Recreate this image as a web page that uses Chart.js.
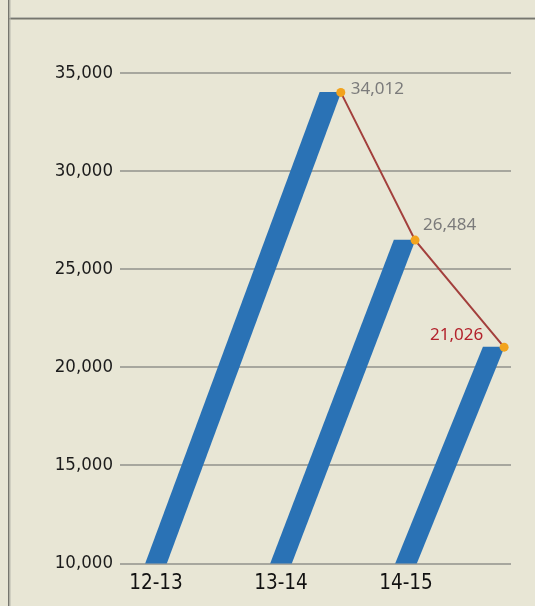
<!DOCTYPE html>
<html lang="en">
<head>
<meta charset="UTF-8" />
<title>Totals by year</title>
<script src="https://cdn.jsdelivr.net/npm/chart.js@4.4.0/dist/chart.umd.min.js"></script>
<style>
  html, body { margin: 0; padding: 0; background: #e8e6d5; }
  canvas { display: block; }
</style>
</head>
<body>
<canvas id="chart" width="535" height="606"></canvas>
<script>
const categories = ["12-13", "13-14", "14-15"];
const totals = [34012, 26484, 21026];
const yMin = 10000;
const yMax = 35000;
const yStep = 5000;

// how far each bar leans: px to the right per px of height
const slant = [0.37, 0.382, 0.405];
const labelSpots = [
  { dx: 10, dy: -3, align: "left", color: "#7b7b7b" },
  { dx: 8, dy: -15, align: "left", color: "#7b7b7b" },
  { dx: -21, dy: -12, align: "right", color: "#b3222c" },
];

const framePlugin = {
  id: "frame",
  beforeDraw(chart) {
    const ctx = chart.ctx;
    ctx.save();
    ctx.fillStyle = "#e8e6d5";
    ctx.fillRect(0, 0, chart.width, chart.height);
    ctx.fillStyle = "#76766e";
    ctx.fillRect(8, 0, 1.5, chart.height);
    ctx.fillRect(9, 18, chart.width, 1.5);
    ctx.fillStyle = "#b8b8ae";
    ctx.fillRect(9.5, 0, 1, chart.height);
    ctx.fillRect(10, 17, chart.width, 1);
    ctx.restore();
  },
};

const slantPlugin = {
  id: "slant",
  afterDatasetsUpdate(chart) {
    const y0 = chart.chartArea.bottom;
    const bars = chart.getDatasetMeta(0).data;
    const pts = chart.getDatasetMeta(1).data;
    pts.forEach((p, i) => {
      const b = bars[i];
      p.x = b.x + b.width / 2 + slant[i] * (y0 - b.y);
      p.y = b.y;
    });
  },
  beforeDatasetDraw(chart, args) {
    if (args.index !== 0) return;
    const ctx = chart.ctx;
    const area = chart.chartArea;
    const y0 = area.bottom;
    ctx.save();
    ctx.beginPath();
    ctx.rect(area.left, area.top - 20, area.right - area.left, area.bottom - area.top + 20);
    ctx.clip();
    args.meta.data.forEach((bar, i) => {
      const k = slant[i];
      ctx.save();
      ctx.transform(1, 0, -k, 1, k * y0, 0);
      bar.draw(ctx);
      ctx.restore();
    });
    ctx.restore();
    return false;
  },
  afterDatasetsDraw(chart) {
    const ctx = chart.ctx;
    const pts = chart.getDatasetMeta(1).data;
    ctx.save();
    ctx.font = "17px 'Noto Sans', sans-serif";
    ctx.textBaseline = "middle";
    pts.forEach((p, i) => {
      const s = labelSpots[i];
      ctx.fillStyle = s.color;
      ctx.textAlign = s.align;
      ctx.fillText(totals[i].toLocaleString("en-US"), p.x + s.dx, p.y + s.dy);
    });
    ctx.restore();
  },
};

const axisFont = "'DejaVu Sans Condensed', 'Liberation Sans Narrow', sans-serif";

new Chart(document.getElementById("chart"), {
  type: "bar",
  data: {
    datasets: [
      {
        type: "bar",
        data: totals.map((v, i) => ({ x: i, y: v })),
        backgroundColor: "#2a72b5",
        barThickness: 21,
        order: 2,
      },
      {
        type: "line",
        data: totals.map((v, i) => ({ x: i, y: v })),
        borderColor: "#a3403d",
        borderWidth: 2,
        pointRadius: 4.5,
        pointBackgroundColor: "#f2a31d",
        pointBorderWidth: 0,
        order: 1,
      },
    ],
  },
  options: {
    responsive: false,
    animation: false,
    layout: { padding: { top: 73, right: 24 } },
    plugins: {
      legend: { display: false },
      tooltip: { enabled: false },
    },
    scales: {
      y: {
        min: yMin,
        max: yMax,
        ticks: {
          stepSize: yStep,
          padding: 7,
          color: "#1c1c1c",
          font: { family: axisFont, size: 18.5 },
          callback: (v) => v.toLocaleString("en-US"),
        },
        grid: { color: "#a7a79e", lineWidth: 2, drawTicks: false },
        border: { display: false },
        afterFit(s) { s.width = 120; },
      },
      x: {
        type: "linear",
        offset: false,
        min: -0.288,
        max: 2.84,
        ticks: {
          stepSize: 1,
          includeBounds: false,
          autoSkip: false,
          maxRotation: 0,
          padding: 0,
          color: "#111111",
          font: { family: axisFont, size: 20.5 },
          callback: (v) => (Number.isInteger(v) ? categories[v] : ""),
        },
        grid: { display: false },
        border: { display: false },
        afterFit(s) { s.height = 42.5; },
      },
    },
  },
  plugins: [framePlugin, slantPlugin],
});
</script>
</body>
</html>
